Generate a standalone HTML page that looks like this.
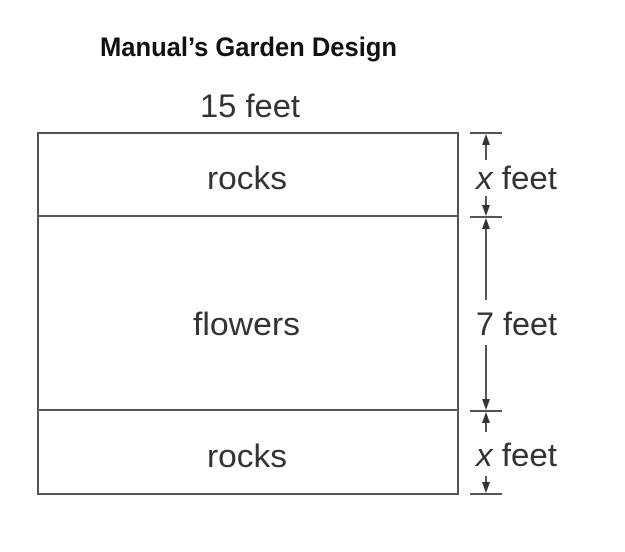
<!DOCTYPE html>
<html><head><style>html,body{margin:0;padding:0;background:#fff}</style></head>
<body>
<svg width="625" height="547" viewBox="0 0 625 547" xmlns="http://www.w3.org/2000/svg" font-family="Liberation Sans, Arial, sans-serif">
<text x="100" y="56" font-size="27" font-weight="bold" fill="#111" textLength="297" lengthAdjust="spacingAndGlyphs">Manual’s Garden Design</text>
<text x="200" y="117" font-size="32" fill="#333" textLength="100" lengthAdjust="spacingAndGlyphs">15 feet</text>
<g stroke="#555" stroke-width="2" fill="none">
<rect x="38" y="133" width="420" height="361"/>
<line x1="38" y1="216" x2="458" y2="216"/>
<line x1="38" y1="410" x2="458" y2="410"/>
<line x1="470" y1="133" x2="502" y2="133"/>
<line x1="470" y1="217" x2="502" y2="217"/>
<line x1="470" y1="411" x2="502" y2="411"/>
<line x1="470" y1="494" x2="502" y2="494"/>
<line x1="486" y1="140" x2="486" y2="160"/>
<line x1="486" y1="196" x2="486" y2="210"/>
<line x1="486" y1="224" x2="486" y2="300"/>
<line x1="486" y1="345" x2="486" y2="404"/>
<line x1="486" y1="418" x2="486" y2="432"/>
<line x1="486" y1="476" x2="486" y2="488"/>
</g>
<g fill="#333">
<polygon points="486,134 482,145 490,145"/>
<polygon points="486,216 482,205 490,205"/>
<polygon points="486,218 482,229 490,229"/>
<polygon points="486,410 482,399 490,399"/>
<polygon points="486,412 482,423 490,423"/>
<polygon points="486,493 482,482 490,482"/>
</g>
<g font-size="32" fill="#333">
<text x="207" y="189" textLength="80" lengthAdjust="spacingAndGlyphs">rocks</text>
<text x="193" y="335" textLength="107" lengthAdjust="spacingAndGlyphs">flowers</text>
<text x="207" y="467" textLength="80" lengthAdjust="spacingAndGlyphs">rocks</text>
<text x="476" y="189" textLength="81" lengthAdjust="spacingAndGlyphs"><tspan font-style="italic">x</tspan> feet</text>
<text x="476" y="335" textLength="81" lengthAdjust="spacingAndGlyphs">7 feet</text>
<text x="476" y="466" textLength="81" lengthAdjust="spacingAndGlyphs"><tspan font-style="italic">x</tspan> feet</text>
</g>
</svg>
</body></html>
